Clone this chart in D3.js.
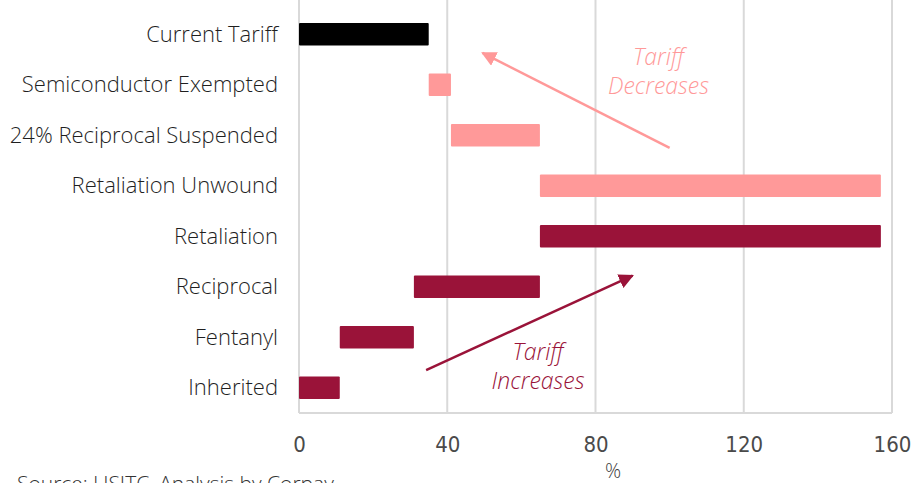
<!DOCTYPE html>
<html>
<head>
<meta charset="utf-8">
<script src="https://cdn.jsdelivr.net/npm/d3@7"></script>
<style>
  body { margin: 0; background: #fff; }
  svg { display: block; }
  .cat { font-family: "Open Sans", Lato, sans-serif; font-weight: 300; font-size: 22px; fill: #1f1f1f; }
  .tick text { font-family: "Liberation Sans Narrow", "DejaVu Sans Condensed", sans-serif; font-stretch: condensed; font-size: 22px; fill: #4a4a4a; }
  .note { font-family: "Open Sans", Lato, sans-serif; font-weight: 300; font-style: italic; font-size: 23px; }
</style>
</head>
<body>
<script>
var categories = ["Current Tariff", "Semiconductor Exempted", "24% Reciprocal Suspended",
  "Retaliation Unwound", "Retaliation", "Reciprocal", "Fentanyl", "Inherited"];
var barStart = [0, 35, 41, 65, 65, 31, 11, 0];
var barEnd   = [35, 41, 65, 157, 157, 65, 31, 11];
var barKind  = ["total", "down", "down", "down", "up", "up", "up", "up"];
var xTicks = [0, 40, 80, 120, 160];

var colors = { total: "#000000", down: "#ff9999", up: "#9a1339" };

// annotations: x in %, y as fractional row index
var notes = [
  { lines: ["Tariff", "Decreases"], x: 97, row: 0.6, kind: "down",
    from: [100, 2.25], to: [49.5, 0.37] },
  { lines: ["Tariff", "Increases"], x: 64.5, row: 6.45, kind: "up",
    from: [34.3, 6.65], to: [90, 4.78] }
];

var width = 917, height = 483;
var margin = { top: 9, right: 25, bottom: 70, left: 299 };

var svg = d3.select("body").append("svg").attr("width", width).attr("height", height);

var x = d3.scaleLinear().domain([0, 160]).range([margin.left, 892]);
var y = d3.scaleBand().domain(categories).range([margin.top, 413]).paddingInner(0.55).paddingOuter(0.275);

function rowY(r) {
  return y(categories[0]) + y.bandwidth() / 2 + r * y.step();
}

// gridlines
svg.append("g").selectAll("line")
  .data(xTicks)
  .enter().append("line")
  .attr("x1", function(d) { return x(d); })
  .attr("x2", function(d) { return x(d); })
  .attr("y1", 0)
  .attr("y2", 413)
  .style("stroke", "#d9d9d9")
  .style("stroke-width", 2);

svg.append("line")
  .attr("x1", x(0)).attr("x2", x(160))
  .attr("y1", 413).attr("y2", 413)
  .style("stroke", "#d9d9d9")
  .style("stroke-width", 2);

// x axis labels
var xAxis = svg.append("g")
  .attr("transform", "translate(0,436)")
  .call(d3.axisBottom(x).tickValues(xTicks).tickSize(0).tickPadding(0));
xAxis.select(".domain").remove();

svg.append("text")
  .attr("x", 613).attr("y", 478)
  .attr("text-anchor", "middle")
  .style("font-family", "'Open Sans', sans-serif")
  .style("font-weight", 300)
  .style("font-size", "20px")
  .style("fill", "#404040")
  .text("%");

// category labels
svg.append("g").selectAll("text")
  .data(categories)
  .enter().append("text")
  .attr("class", "cat")
  .attr("x", 278)
  .attr("y", function(d) { return y(d) + y.bandwidth() / 2; })
  .attr("dy", "0.35em")
  .attr("text-anchor", "end")
  .text(function(d) { return d; });

// bars
svg.append("g").selectAll("rect")
  .data(categories)
  .enter().append("rect")
  .attr("x", function(d, i) { return x(Math.min(barStart[i], barEnd[i])); })
  .attr("width", function(d, i) { return Math.abs(x(barEnd[i]) - x(barStart[i])); })
  .attr("y", function(d) { return y(d); })
  .attr("height", y.bandwidth())
  .attr("rx", 1)
  .style("fill", function(d, i) { return colors[barKind[i]]; });

// arrows
var defs = svg.append("defs");
["down", "up"].forEach(function(k) {
  defs.append("marker")
    .attr("id", "head-" + k)
    .attr("viewBox", "0 0 10 10")
    .attr("refX", 9).attr("refY", 5)
    .attr("markerWidth", 6).attr("markerHeight", 6)
    .attr("orient", "auto")
    .append("path")
    .attr("d", "M0,0 L10,5 L0,10 z")
    .style("fill", colors[k]);
});

notes.forEach(function(n) {
  svg.append("line")
    .attr("x1", x(n.from[0])).attr("y1", rowY(n.from[1]))
    .attr("x2", x(n.to[0])).attr("y2", rowY(n.to[1]))
    .style("stroke", colors[n.kind])
    .style("stroke-width", 2.5)
    .attr("marker-end", "url(#head-" + n.kind + ")");

  var t = svg.append("text")
    .attr("class", "note")
    .attr("text-anchor", "middle")
    .attr("y", rowY(n.row))
    .style("fill", colors[n.kind]);
  n.lines.forEach(function(l, i) {
    t.append("tspan").attr("x", x(n.x)).attr("dy", i === 0 ? 0 : 29).text(l);
  });
});

// source
svg.append("text")
  .attr("x", 17).attr("y", 491)
  .style("font-family", "'Open Sans', sans-serif")
  .style("font-weight", 300)
  .style("font-size", "21px")
  .style("fill", "#333")
  .text("Source: USITC, Analysis by Corpay");
</script>
</body>
</html>
